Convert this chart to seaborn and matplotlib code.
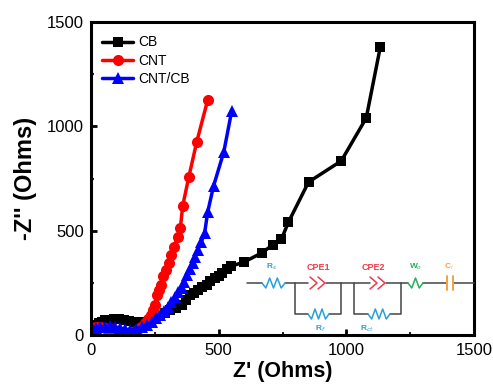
import numpy as np
import pandas as pd
import seaborn as sns
import matplotlib
matplotlib.use('Agg')
import matplotlib.pyplot as plt

# data
cb_x = [8,12,18,25,33,42,55,70,90,110,130,150,170,190,210,230,250,270,290,310,333,355,372,387,402,418,435,453,468,484,500,515,532,550,600,668,711,746,773,852,980,1078,1133]
cb_y = [20,32,42,50,58,64,70,74,76,75,72,68,62,60,63,70,80,92,105,118,130,144,168,192,203,215,228,240,257,273,285,297,314,330,350,393,431,460,540,733,834,1040,1380]
cnt_x = [5,10,20,35,55,74,95,113,135,152,165,180,195,211,224,234,243,250,258,265,273,281,293,305,315,324,340,350,359,383,414,457]
cnt_y = [20,33,38,38,33,29,20,14,11,10,14,24,38,57,76,96,120,144,192,215,240,283,310,345,385,422,470,513,618,757,925,1126]
mix_x = [3,8,20,35,55,74,95,113,132,152,175,199,218,238,255,270,285,301,315,328,342,355,365,375,387,398,408,418,432,445,457,480,520,551]
mix_y = [15,24,32,38,40,43,38,33,28,24,30,38,50,62,80,96,115,134,158,182,205,225,255,288,315,345,375,407,445,489,589,714,877,1073]

names = ['CB','CNT','CNT/CB']
colors = {'CB':'black','CNT':'red','CNT/CB':'blue'}
marks = {'CB':'s','CNT':'o','CNT/CB':'^'}
msize = {'CB':7,'CNT':8,'CNT/CB':8.5}

df = pd.concat([
    pd.DataFrame({'x':cb_x,'y':cb_y,'s':'CB'}),
    pd.DataFrame({'x':cnt_x,'y':cnt_y,'s':'CNT'}),
    pd.DataFrame({'x':mix_x,'y':mix_y,'s':'CNT/CB'}),
])

sns.set_theme(style='white')
plt.rcParams['font.family'] = ['Liberation Sans','DejaVu Sans']

W, H = 493, 386
fig = plt.figure(figsize=(W/100,H/100),dpi=100)
L,R,T,B = 91,474,22,335
ax = fig.add_axes([L/W,1-B/H,(R-L)/W,(B-T)/H])

sns.lineplot(data=df,x='x',y='y',hue='s',style='s',hue_order=names,style_order=names,
             palette=colors,markers=marks,dashes=False,estimator=None,sort=False,
             linewidth=2.5,markersize=8,markeredgewidth=0,ax=ax)

# 每条线的标记大小不同
h,l = ax.get_legend_handles_labels()
for line,name in zip(ax.lines[:3],names):
    line.set_markersize(msize[name])
for hd,name in zip(h,l):
    hd.set_markersize(msize[name])
    hd.set_markeredgewidth(0)

ax.set_xlim(0,1500)
ax.set_ylim(0,1500)
ax.set_xticks([0,500,1000,1500])
ax.set_yticks([0,500,1000,1500])
ax.set_xticks([250,750,1250],minor=True)
ax.set_yticks([250,750,1250],minor=True)
ax.tick_params(which='major',direction='in',length=4,width=2,labelsize=12,colors='black',bottom=True,left=True)
ax.tick_params(axis='x',which='major',pad=6)
ax.tick_params(axis='y',which='major',pad=5)
ax.tick_params(which='minor',direction='in',length=2,width=1.5,bottom=True,left=True)
for s in ax.spines.values():
    s.set_linewidth(2.2)
    s.set_color('black')
ax.set_xlabel("Z' (Ohms)",fontsize=15.5,fontweight='bold',labelpad=2,color='black')
ax.set_ylabel("-Z'' (Ohms)",fontsize=17,fontweight='bold',labelpad=7,color='black')

leg = ax.legend(h,l,loc='upper left',frameon=False,fontsize=10,bbox_to_anchor=(0.014,0.975),
          handlelength=2.25,labelspacing=0.3,handletextpad=0.4,borderaxespad=0.2,borderpad=0.2)
for t in leg.get_texts():
    t.set_color('black')

# 等效电路 circuit inset, drawn in pixel positions
def px(x,y):
    return (x-L)/(R-L),(B-y)/(B-T)

def seg(xs,ys,color='#444444',lw=1.1):
    pts = [px(a,b) for a,b in zip(xs,ys)]
    ax.plot([p[0] for p in pts],[p[1] for p in pts],color=color,lw=lw,transform=ax.transAxes,zorder=5,clip_on=False)

def zigzag(x0,x1,y,color,n=4,amp=5):
    xs = [x0+(x1-x0)*i/(2*n) for i in range(2*n+1)]
    ys = [y+(amp if i%2 else -amp) for i in range(2*n+1)]
    ys[0] = y
    ys[-1] = y
    seg(xs,ys,color,1.1)

def cpe(x0,y,color):
    for x in (x0,x0+8):
        seg([x,x+7,x],[y-6,y,y+6],color,1.1)

def label(x,y,t,color,fs=6):
    p = px(x,y)
    ax.text(p[0],p[1],t,color=color,fontsize=fs,fontweight='bold',ha='center',va='center',transform=ax.transAxes,zorder=6)

blue2,red2,green2,orange2 = '#2a9fd8','#ee3b4b','#22b05a','#f5a040'
yc,yb = 283,314
seg([247,262],[yc,yc]); seg([285,308],[yc,yc]); seg([326,370],[yc,yc])
seg([386,408],[yc,yc]); seg([423,447],[yc,yc]); seg([453,474],[yc,yc])
seg([295,295,308],[yc,yb,yb]); seg([329,341,341],[yb,yb,yc])
seg([354,354,368],[yc,yb,yb]); seg([390,401,401],[yb,yb,yc])
zigzag(262,285,yc,blue2,n=3)
zigzag(308,329,yb,blue2,n=3)
zigzag(368,390,yb,blue2,n=3)
zigzag(408,423,yc,green2,n=2)
cpe(310,yc,red2)
cpe(370,yc,red2)
seg([447,447],[yc-7,yc+7],orange2,1.4)
seg([453,453],[yc-7,yc+7],orange2,1.4)
label(272,267,'R$_s$',blue2)
label(318,267,'CPE1',red2,6.5)
label(373,267,'CPE2',red2,6.5)
label(416,267,'W$_o$',green2)
label(449,267,'C$_i$',orange2)
label(320,329,'R$_f$',blue2)
label(367,329,'R$_{ct}$',blue2)

fig.savefig('out.png',dpi=100)
